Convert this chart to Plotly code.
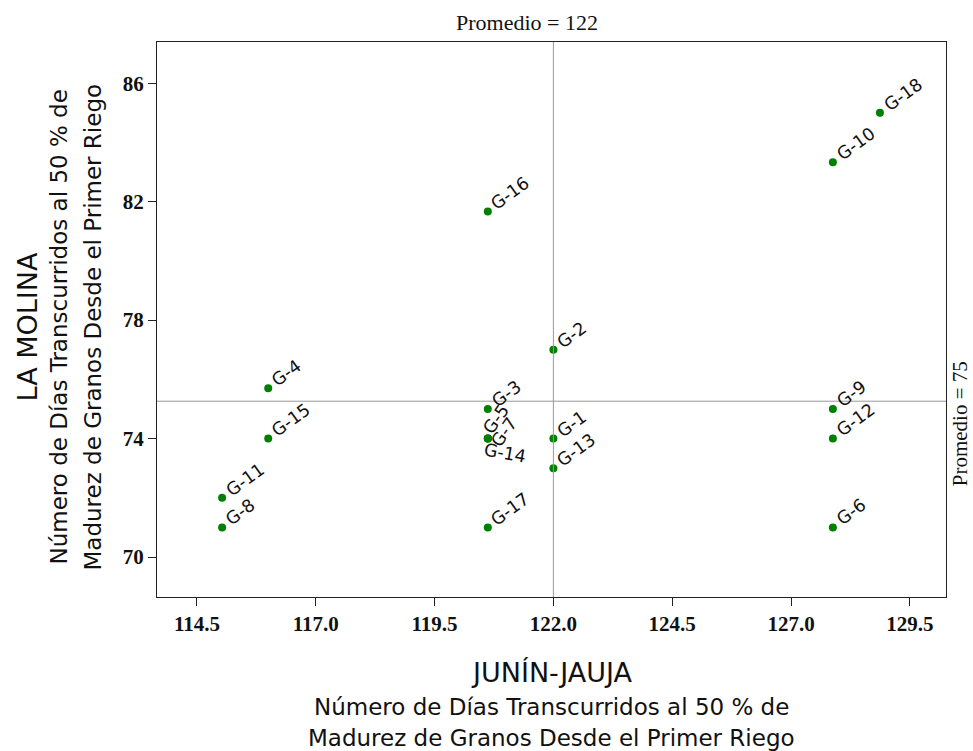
import plotly.graph_objects as go

labels = ["G-1","G-2","G-3","G-4","G-5","G-6","G-7","G-8","G-9","G-10",
          "G-11","G-12","G-13","G-14","G-15","G-16","G-17","G-18"]
x_jauja = [122.0,122.0,120.62,116.0,120.62,127.88,120.62,115.03,127.88,127.88,
           115.03,127.88,122.0,120.62,116.0,120.62,120.62,128.87]
y_molina = [74.0,77.0,75.0,75.7,74.0,71.0,74.0,71.0,75.0,83.33,
            72.0,74.0,73.0,74.0,74.0,81.67,71.0,85.0]
x_ticks = [114.5,117.0,119.5,122.0,124.5,127.0,129.5]
y_ticks = [70,74,78,82,86]
mean_x = 122.0
mean_y = sum(y_molina)/len(y_molina)

# special label styles: (angle, xshift, yshift) with centre anchoring
label_style = {
    "G-5": (-55, 8, 20),
    "G-7": (-55, 16, 7),
    "G-14": (10, 17, -14),
}

fig = go.Figure()
fig.add_trace(go.Scatter(x=x_jauja, y=y_molina, mode="markers",
                         marker=dict(color="#008000", size=8), hoverinfo="text",
                         text=labels, showlegend=False))

fig.add_shape(type="line", xref="x", yref="paper", x0=mean_x, x1=mean_x, y0=0, y1=1,
              line=dict(color="#9a9a9a", width=1))
fig.add_shape(type="line", xref="paper", yref="y", x0=0, x1=1, y0=mean_y, y1=mean_y,
              line=dict(color="#9a9a9a", width=1))

lab_font = dict(family="DejaVu Sans", size=17.5, color="#111")
for lb, xv, yv in zip(labels, x_jauja, y_molina):
    if lb in label_style:
        ang, xs, ys = label_style[lb]
        fig.add_annotation(x=xv, y=yv, text=lb, showarrow=False, textangle=ang,
                           xanchor="center", yanchor="middle", xshift=xs, yshift=ys,
                           font=lab_font)
    else:
        fig.add_annotation(x=xv, y=yv, text=lb, showarrow=False, textangle=-36,
                           xanchor="left", yanchor="bottom", xshift=-3, yshift=-5,
                           font=lab_font)

serif = "Liberation Serif"
sans = "DejaVu Sans"
fig.add_annotation(x=mean_x, y=1, xref="x", yref="paper", text="Promedio = 122",
                   showarrow=False, yanchor="middle", yshift=20, xshift=-26,
                   font=dict(family=serif, size=22, color="#111"))
fig.add_annotation(x=1, y=mean_y, xref="paper", yref="y", text="Promedio = 75",
                   showarrow=False, textangle=-90, xanchor="center", yanchor="middle",
                   xshift=14, yshift=-23,
                   font=dict(family=serif, size=21, color="#111"))

xt = dict(x=0.5, xref="paper", yref="paper", y=0, showarrow=False, yanchor="middle")
fig.add_annotation(text="JUNÍN-JAUJA", yshift=-(672-597),
                   font=dict(family=sans, size=27, color="#111"), **xt)
fig.add_annotation(text="Número de Días Transcurridos al 50 % de", yshift=-(707-597),
                   font=dict(family=sans, size=23, color="#111"), **xt)
fig.add_annotation(text="Madurez de Granos Desde el Primer Riego", yshift=-(738-597),
                   font=dict(family=sans, size=23, color="#111"), **xt)

yt = dict(x=0, y=0.5, xref="paper", yref="paper", showarrow=False, textangle=-90,
          xanchor="center", yanchor="middle", yshift=-8)
fig.add_annotation(text="LA MOLINA", xshift=-(157-27),
                   font=dict(family=sans, size=27, color="#111"), **yt)
fig.add_annotation(text="Número de Días Transcurridos al 50 % de", xshift=-(157-58),
                   font=dict(family=sans, size=23, color="#111"), **yt)
fig.add_annotation(text="Madurez de Granos Desde el Primer Riego", xshift=-(157-92),
                   font=dict(family=sans, size=23, color="#111"), **yt)

axis_common = dict(showgrid=False, zeroline=False, showline=True, linecolor="#222",
                   linewidth=1, mirror=True, ticks="outside", ticklen=8, tickcolor="#222",
                   tickfont=dict(family=serif, size=21, color="#111"))
fig.update_xaxes(range=[113.66, 130.26], tickvals=x_ticks,
                 ticktext=[f"<b>{v:.1f}</b>" for v in x_ticks], **axis_common)
fig.update_yaxes(range=[68.65, 87.39], tickvals=y_ticks,
                 ticktext=[f"<b>{v}</b>" for v in y_ticks], **axis_common)

fig.update_layout(width=973, height=751, margin=dict(l=157, r=27, t=42, b=154),
                  plot_bgcolor="white", paper_bgcolor="white")
fig.write_html("out.html")
